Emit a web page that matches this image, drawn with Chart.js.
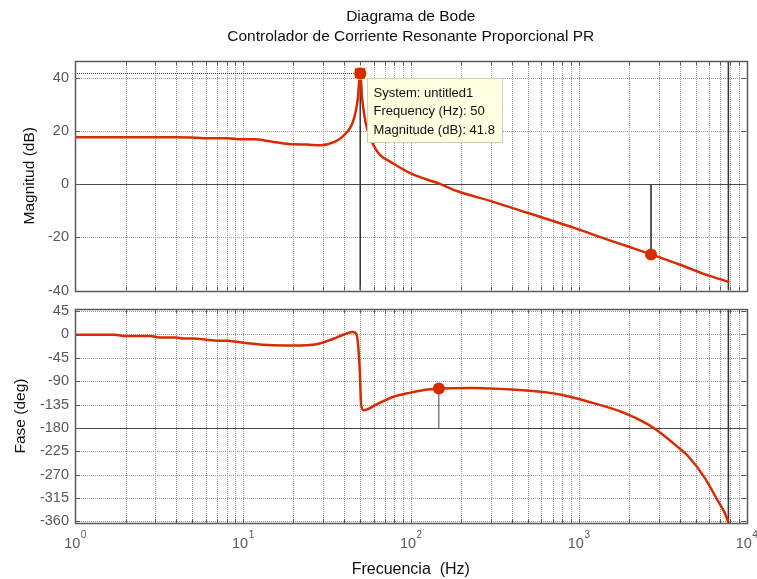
<!DOCTYPE html>
<html>
<head>
<meta charset="utf-8">
<script src="https://cdn.jsdelivr.net/npm/chart.js@4.4.0/dist/chart.umd.min.js"></script>
<style>
  html, body { margin: 0; padding: 0; background: #ffffff; }
  #wrap { position: relative; width: 757px; height: 579px; overflow: hidden; background: #ffffff; }
  canvas { position: absolute; left: 0; }
  #magCanvas { top: 0; }
  #phaseCanvas { top: 300px; }
</style>
</head>
<body>
<div id="wrap">
  <canvas id="magCanvas" width="757" height="300"></canvas>
  <canvas id="phaseCanvas" width="757" height="279"></canvas>
</div>
<script>
// ---- Frequency response of the PR current controller ----
const magFreqHz = [1, 2, 3, 4, 5, 5.8, 8.1, 9.7, 11.6, 15, 20, 24, 29, 34.8, 39.9, 45.8, 48.3, 50,
                   51.4, 53.8, 57.6, 61.7, 66, 75.7, 100, 150, 190, 300, 500, 940, 1500, 2050, 2700, 4100, 5900, 7800];
const magDb     = [17.8, 17.8, 17.8, 17.8, 17.7, 17.4, 17.4, 17.0, 17.0, 16.1, 15.1, 15.0, 14.7, 15.9, 18.4, 24.6, 32, 41.8,
                   32, 23.4, 17.2, 13.4, 10.9, 8.5, 4.1, 0.1, -2.6, -6.3, -10.8, -16.4, -20.9, -23.8, -26.4, -30.5, -34.3, -36.7];

const phaseFreqHz = [1, 1.73, 2, 2.8, 3.2, 4, 4.4, 5, 7, 8, 10, 15, 22, 26, 29, 33, 36, 40, 44.8, 46.9, 48.3, 49.7, 50.6, 52.5,
                     63, 79, 100, 126, 147, 237, 400, 660, 787, 1133, 1836, 2588, 2970, 3907, 4480, 5640, 6770, 7430, 7800];
const phaseDeg    = [-0.6, -0.6, -3.2, -3.2, -5.8, -5.8, -7.7, -7.7, -12, -12, -16, -21, -21.5, -20, -17, -11, -6, 0, 4.8, 3, -12, -70, -134, -146,
                     -134, -120, -112, -106, -104, -103, -106, -112, -116, -129, -150, -173, -186, -217, -234, -276, -321, -344, -362];

// Characteristic points
const peakFreqHz = 50,   peakDb = 41.8;   // resonant peak (data tip)
const gmFreqHz   = 2700, gmDb   = -26.4;  // gain margin point
const pmFreqHz   = 147,  pmDeg  = -104;   // phase margin point
const nyquistHz  = 7800;
const systemName = 'untitled1';

// Axes
const magRange   = [-40, 46.5];
const phaseRange = [-363, 49];
const magTicks   = [-40, -20, 0, 20, 40];
const phaseTicks = [-360, -315, -270, -225, -180, -135, -90, -45, 0, 45];
const decadeTicks = [1, 10, 100, 1000, 10000];
const decadeExponents = ['0', '1', '2', '3', '4'];
const magRefLevel = 0;
const phaseRefLevel = -180;

// log grid: 1..9 per decade
const freqGrid = [];
for (const d of decadeTicks.slice(0, -1)) for (let m = 1; m <= 9; m++) freqGrid.push(m * d);
freqGrid.push(decadeTicks[decadeTicks.length - 1]);

const FONT = "'Liberation Sans', Arial, Helvetica, sans-serif";
const RED = 'rgb(217,43,0)';
const TICK_COLOR = '#595959';
const FRAME_COLOR = '#5a5a5a';

Chart.defaults.font.family = FONT;
Chart.defaults.animation = false;

const pts = (xs, ys) => xs.map((x, i) => ({ x, y: ys[i] }));

// MATLAB-style dotted grid, emphasised reference level, frame with inward ticks
const matlabAxes = {
  id: 'matlabAxes',
  beforeDatasetsDraw(chart, args, opts) {
    const { ctx, chartArea: a, scales: { x, y } } = chart;
    ctx.save();
    ctx.beginPath();
    ctx.rect(a.left, a.top, a.right - a.left, a.bottom - a.top);
    ctx.clip();
    ctx.lineWidth = 1;
    ctx.strokeStyle = '#9c9c9c';
    ctx.setLineDash([1, 1]);
    ctx.beginPath();
    for (const t of x.ticks) {
      const px = Math.round(x.getPixelForValue(t.value)) + 0.5;
      ctx.moveTo(px, a.top); ctx.lineTo(px, a.bottom);
    }
    for (const t of y.ticks) {
      const py = Math.round(y.getPixelForValue(t.value)) + 0.5;
      ctx.moveTo(a.left, py); ctx.lineTo(a.right, py);
    }
    ctx.stroke();
    if (opts.refLevel !== undefined) {
      ctx.setLineDash([]);
      ctx.strokeStyle = '#4a4a4a';
      const py = Math.round(y.getPixelForValue(opts.refLevel)) + 0.5;
      ctx.beginPath(); ctx.moveTo(a.left, py); ctx.lineTo(a.right, py); ctx.stroke();
    }
    ctx.restore();
  },
  afterDatasetsDraw(chart) {
    const { ctx, chartArea: a, scales: { x, y } } = chart;
    ctx.save();
    ctx.strokeStyle = FRAME_COLOR;
    ctx.lineWidth = 1;
    ctx.beginPath();
    for (const t of x.ticks) {
      const px = Math.round(x.getPixelForValue(t.value)) + 0.5;
      ctx.moveTo(px, a.bottom); ctx.lineTo(px, a.bottom - 4);
      ctx.moveTo(px, a.top); ctx.lineTo(px, a.top + 4);
    }
    for (const t of y.ticks) {
      const py = Math.round(y.getPixelForValue(t.value)) + 0.5;
      ctx.moveTo(a.left, py); ctx.lineTo(a.left + 5, py);
      ctx.moveTo(a.right, py); ctx.lineTo(a.right - 5, py);
    }
    ctx.stroke();
    ctx.lineWidth = 1.5;
    ctx.strokeRect(Math.round(a.left) + 0.5, Math.round(a.top) + 0.5,
                   Math.round(a.right - a.left), Math.round(a.bottom - a.top));
    ctx.restore();
  }
};

// Decade labels "10" with a raised exponent under the frequency axis
const decadeLabels = {
  id: 'decadeLabels',
  afterDraw(chart, args, opts) {
    if (!opts.show) return;
    const { ctx, chartArea: a, scales: { x } } = chart;
    ctx.save();
    ctx.fillStyle = TICK_COLOR;
    ctx.textBaseline = 'alphabetic';
    ctx.textAlign = 'left';
    decadeTicks.forEach((v, i) => {
      const px = x.getPixelForValue(v);
      ctx.font = '14.5px ' + FONT;
      const wBase = ctx.measureText('10').width;
      ctx.font = '10px ' + FONT;
      const wExp = ctx.measureText(decadeExponents[i]).width;
      const x0 = px - (wBase + wExp) / 2;
      const base = a.bottom + 25;
      ctx.font = '14.5px ' + FONT;
      ctx.fillText('10', x0, base);
      ctx.font = '10px ' + FONT;
      ctx.fillText(decadeExponents[i], x0 + wBase + 0.5, base - 10);
    });
    ctx.restore();
  }
};

// Data tip box next to the resonant peak
const dataTip = {
  id: 'dataTip',
  afterDraw(chart, args, opts) {
    if (!opts.lines) return;
    const { ctx, scales: { x, y } } = chart;
    const px = x.getPixelForValue(opts.freq);
    const py = y.getPixelForValue(opts.value);
    ctx.save();
    ctx.font = '13px ' + FONT;
    const w = Math.round(Math.max(...opts.lines.map(l => ctx.measureText(l).width)) + 14);
    const h = 64;
    const bx = Math.round(px + 7) + 0.5, by = Math.round(py + 5) + 0.5;
    ctx.fillStyle = '#ffffe1';
    ctx.fillRect(bx, by, w, h);
    ctx.strokeStyle = '#cfcfb8';
    ctx.lineWidth = 1;
    ctx.strokeRect(bx, by, w, h);
    ctx.fillStyle = '#111111';
    ctx.textBaseline = 'middle';
    opts.lines.forEach((l, i) => ctx.fillText(l, bx + 6, by + 14.5 + i * 18.5));
    ctx.restore();
  }
};

function xAxis(showLabels) {
  return {
    type: 'logarithmic', min: decadeTicks[0], max: decadeTicks[decadeTicks.length - 1], bounds: 'data',
    afterBuildTicks: s => { s.ticks = freqGrid.map(v => ({ value: v })); },
    afterFit: s => { s.height = showLabels ? 56 : 0; s.paddingLeft = 0; s.paddingRight = 0; },
    grid: { display: false, drawTicks: false },
    border: { display: false },
    ticks: { display: false, autoSkip: false },
    title: { display: showLabels, text: 'Frecuencia  (Hz)', color: '#111111',
             font: { size: 16 }, padding: { top: 0, bottom: 0 } }
  };
}

function yAxis(range, ticks, label, titlePad) {
  return {
    type: 'linear', min: range[0], max: range[1],
    afterBuildTicks: s => { s.ticks = ticks.map(v => ({ value: v })); },
    afterFit: s => { s.width = 75; s.paddingTop = 0; s.paddingBottom = 0; },
    grid: { display: false, drawTicks: false },
    border: { display: false },
    ticks: { padding: 6, color: TICK_COLOR, font: { size: 14.5 } },
    title: { display: true, text: label, color: '#111111', font: { size: 15.5 },
             padding: { top: titlePad, bottom: 0 } }
  };
}

const refLine = (data, color, width, dash) => ({
  data, borderColor: color, borderWidth: width, borderDash: dash || [],
  pointRadius: 0, fill: false, tension: 0, order: 2
});
const marker = (x, y, r, style, fill, border, bw, order) => ({
  data: [{ x, y }], showLine: false, pointStyle: style, pointRadius: r,
  pointBackgroundColor: fill, pointBorderColor: border, pointBorderWidth: bw, order
});

// ---- Magnitude ----
new Chart(document.getElementById('magCanvas'), {
  type: 'line',
  data: {
    datasets: [
      { data: pts(magFreqHz, magDb), borderColor: RED, borderWidth: 2.5, pointRadius: 0,
        cubicInterpolationMode: 'monotone', borderJoinStyle: 'round', borderCapStyle: 'round', order: 1 },
      marker(peakFreqHz, peakDb, 8, 'rect', '#111111', '#f3eeb0', 1.5, 0.5),
      marker(peakFreqHz, peakDb, 6, 'circle', RED, RED, 0, 0),
      marker(gmFreqHz, gmDb, 6, 'circle', RED, RED, 0, 0),
      refLine([{ x: decadeTicks[0], y: peakDb }, { x: peakFreqHz, y: peakDb }], '#3c3c3c', 1, [1, 1]),
      refLine([{ x: peakFreqHz, y: magRange[0] }, { x: peakFreqHz, y: peakDb }], '#333333', 1.5),
      refLine([{ x: gmFreqHz, y: magRefLevel }, { x: gmFreqHz, y: gmDb }], '#444444', 1),
      refLine([{ x: nyquistHz, y: magRange[0] }, { x: nyquistHz, y: magRange[1] }], '#333333', 1.5)
    ]
  },
  options: {
    responsive: false,
    events: [],
    layout: { padding: { left: 0, right: 10.5, top: 0, bottom: 7 } },
    scales: {
      x: xAxis(false),
      y: yAxis(magRange, magTicks, 'Magnitud (dB)', 20.5)
    },
    plugins: {
      legend: { display: false },
      tooltip: { enabled: false },
      title: {
        display: true, fullSize: false,
        text: ['Diagrama de Bode', 'Controlador de Corriente Resonante Proporcional PR'],
        color: '#111111', font: { size: 15.5, weight: 'normal', lineHeight: 1.29 },
        padding: { top: 7, bottom: 14 }
      },
      matlabAxes: { refLevel: magRefLevel },
      decadeLabels: { show: false },
      dataTip: {
        freq: peakFreqHz, value: peakDb,
        lines: ['System: ' + systemName, 'Frequency (Hz): ' + peakFreqHz, 'Magnitude (dB): ' + peakDb]
      }
    }
  },
  plugins: [matlabAxes, dataTip]
});

// ---- Phase ----
new Chart(document.getElementById('phaseCanvas'), {
  type: 'line',
  data: {
    datasets: [
      { data: pts(phaseFreqHz, phaseDeg), borderColor: RED, borderWidth: 2.5, pointRadius: 0,
        cubicInterpolationMode: 'monotone', borderJoinStyle: 'round', borderCapStyle: 'round', order: 1 },
      marker(pmFreqHz, pmDeg, 6, 'circle', RED, RED, 0, 0),
      refLine([{ x: pmFreqHz, y: phaseRefLevel }, { x: pmFreqHz, y: pmDeg }], '#444444', 1),
      refLine([{ x: nyquistHz, y: phaseRange[0] }, { x: nyquistHz, y: phaseRange[1] }], '#333333', 1.5)
    ]
  },
  options: {
    responsive: false,
    events: [],
    layout: { padding: { left: 0, right: 10.5, top: 9, bottom: 0 } },
    scales: {
      x: xAxis(true),
      y: yAxis(phaseRange, phaseTicks, 'Fase (deg)', 11.5)
    },
    plugins: {
      legend: { display: false },
      tooltip: { enabled: false },
      matlabAxes: { refLevel: phaseRefLevel },
      decadeLabels: { show: true }
    }
  },
  plugins: [matlabAxes, decadeLabels]
});
</script>
</body>
</html>
